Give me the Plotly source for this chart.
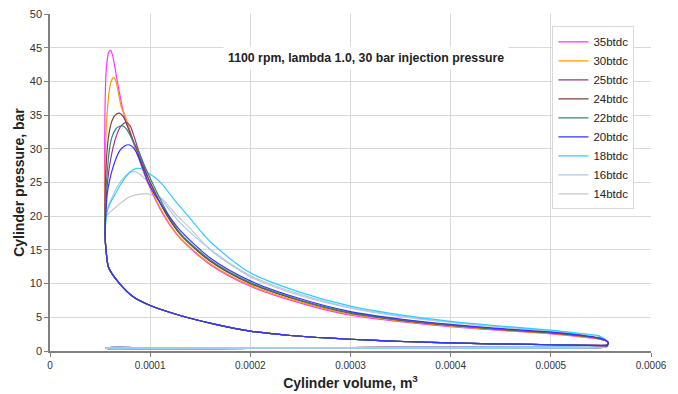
import plotly.graph_objects as go

# ---------------- data (volume in 1e-4 m^3, pressure in bar) ----------------
V_UNIT = 1e-4

SERIES = ["35btdc", "30btdc", "25btdc", "24btdc", "22btdc", "20btdc", "18btdc", "16btdc", "14btdc"]
DRAW_ORDER = ["14btdc", "16btdc", "18btdc", "35btdc", "30btdc", "25btdc", "24btdc", "22btdc", "20btdc"]
GAS_DRAW_ORDER = ["20btdc", "22btdc", "24btdc", "25btdc", "30btdc", "35btdc", "14btdc", "18btdc", "16btdc"]

# compression stroke (BDC -> TDC), shared by all runs
COMP_V = [5.57, 5.20, 4.80, 4.40, 4.00, 3.60, 3.20, 2.80, 2.40, 2.00, 1.63, 1.30, 1.00, 0.835, 0.695, 0.585, 0.560, 0.550]
COMP_P = [0.80, 0.88, 0.97, 1.07, 1.20, 1.37, 1.60, 1.90, 2.30, 2.94, 4.03, 5.27, 6.75, 8.00, 10.0, 12.4, 14.9, 17.0]

# combustion + expansion, per run
HOT_V = {
    "35btdc": [0.546, 0.545, 0.548, 0.556, 0.568, 0.585, 0.604, 0.622, 0.642, 0.670, 0.740, 0.842, 0.967, 1.132, 1.30, 1.60, 2.00, 2.50, 3.00, 3.50, 4.00, 4.50, 5.00, 5.30, 5.48],
    "30btdc": [0.548, 0.550, 0.558, 0.571, 0.590, 0.610, 0.637, 0.658, 0.683, 0.712, 0.748, 0.845, 0.970, 1.135, 1.30, 1.60, 2.00, 2.50, 3.00, 3.50, 4.00, 4.50, 5.00, 5.30, 5.48],
    "25btdc": [0.550, 0.555, 0.565, 0.585, 0.604, 0.630, 0.660, 0.700, 0.740, 0.765, 0.800, 0.840, 0.885, 0.940, 1.000, 1.160, 1.30, 1.60, 2.00, 2.50, 3.00, 3.50, 4.00, 4.50, 5.00, 5.30, 5.48],
    "24btdc": [0.548, 0.550, 0.554, 0.571, 0.595, 0.620, 0.650, 0.693, 0.730, 0.770, 0.810, 0.868, 0.930, 1.000, 1.160, 1.30, 1.60, 2.00, 2.50, 3.00, 3.50, 4.00, 4.50, 5.00, 5.30, 5.48],
    "22btdc": [0.549, 0.552, 0.564, 0.580, 0.594, 0.620, 0.655, 0.690, 0.725, 0.760, 0.800, 0.840, 0.880, 0.950, 1.020, 1.170, 1.30, 1.60, 2.00, 2.50, 3.00, 3.50, 4.00, 4.50, 5.00, 5.30, 5.48],
    "20btdc": [0.550, 0.558, 0.571, 0.595, 0.620, 0.660, 0.700, 0.745, 0.785, 0.830, 0.880, 0.934, 0.980, 1.080, 1.180, 1.30, 1.60, 2.00, 2.50, 3.00, 3.50, 4.00, 4.50, 5.00, 5.30, 5.48],
    "18btdc": [0.550, 0.556, 0.571, 0.610, 0.653, 0.700, 0.760, 0.820, 0.868, 0.920, 0.980, 1.050, 1.116, 1.248, 1.380, 1.60, 2.00, 2.50, 3.00, 3.50, 4.00, 4.50, 5.00, 5.30, 5.48],
    "16btdc": [0.550, 0.556, 0.575, 0.620, 0.680, 0.740, 0.800, 0.840, 0.890, 0.950, 1.000, 1.100, 1.200, 1.300, 1.60, 2.00, 2.50, 3.00, 3.50, 4.00, 4.50, 5.00, 5.30, 5.48],
    "14btdc": [0.550, 0.552, 0.571, 0.600, 0.653, 0.720, 0.785, 0.870, 0.967, 1.040, 1.100, 1.170, 1.248, 1.40, 1.60, 2.00, 2.50, 3.00, 3.50, 4.00, 4.50, 5.00, 5.30, 5.48],
}
HOT_P = {
    "35btdc": [20.0, 28.0, 34.7, 40.1, 42.8, 44.3, 44.6, 44.0, 42.6, 40.2, 35.0, 30.5, 25.3, 20.2, 16.7, 12.8, 9.6, 7.1, 5.3, 4.35, 3.6, 3.05, 2.55, 2.1, 1.75],
    "30btdc": [20.0, 26.0, 32.0, 35.4, 38.5, 40.0, 40.6, 40.0, 38.3, 36.2, 35.0, 30.5, 25.4, 20.3, 16.8, 12.95, 9.75, 7.25, 5.45, 4.45, 3.7, 3.12, 2.6, 2.17, 1.8],
    "25btdc": [18.0, 20.5, 23.5, 26.5, 28.3, 30.2, 31.8, 33.2, 33.8, 33.9, 33.4, 31.8, 29.7, 27.3, 25.0, 20.4, 17.4, 13.4, 10.1, 7.5, 5.65, 4.6, 3.82, 3.22, 2.72, 2.27, 1.88],
    "24btdc": [19.0, 21.8, 25.0, 30.0, 32.8, 34.2, 35.0, 35.3, 34.8, 33.5, 32.0, 29.8, 27.3, 25.0, 20.3, 17.3, 13.3, 10.0, 7.45, 5.6, 4.55, 3.8, 3.2, 2.7, 2.25, 1.85],
    "22btdc": [18.5, 21.0, 25.0, 28.0, 30.0, 31.8, 32.9, 33.3, 33.4, 33.0, 32.0, 30.8, 29.8, 27.3, 25.0, 20.5, 17.5, 13.5, 10.15, 7.55, 5.7, 4.65, 3.85, 3.25, 2.75, 2.3, 1.9],
    "20btdc": [18.0, 20.5, 23.3, 25.3, 26.8, 28.6, 29.8, 30.4, 30.6, 30.2, 28.9, 26.8, 25.0, 22.4, 20.2, 17.9, 13.8, 10.4, 7.75, 5.85, 4.75, 3.95, 3.32, 2.8, 2.35, 1.95],
    "18btdc": [17.5, 19.0, 20.8, 22.2, 23.3, 24.6, 25.9, 26.8, 27.1, 27.0, 26.4, 25.7, 24.8, 22.3, 20.0, 16.2, 11.6, 8.7, 6.65, 5.35, 4.4, 3.7, 3.1, 2.6, 2.25],
    "16btdc": [17.5, 19.2, 21.0, 22.8, 24.6, 25.8, 26.5, 26.6, 26.3, 25.5, 24.7, 22.8, 20.8, 19.0, 15.1, 11.2, 8.4, 6.45, 5.2, 4.3, 3.6, 3.0, 2.55, 2.2],
    "14btdc": [17.5, 19.6, 20.1, 20.6, 21.3, 22.1, 22.8, 23.2, 23.3, 23.1, 22.8, 21.8, 20.4, 18.2, 15.0, 11.0, 8.2, 6.35, 5.1, 4.25, 3.55, 2.95, 2.5, 2.15],
}

# blow-down at BDC, exhaust stroke (leftwards), intake stroke (rightwards)
TURN_V = [5.56, 5.575, 5.55]
TURN_P = [1.45, 1.10, 0.82]
EXH_V = [5.40, 5.00, 4.00, 3.00, 2.00, 1.00, 0.56]
EXH_P = [0.68, 0.60, 0.55, 0.52, 0.50, 0.48, 0.48]
INT_V = [0.56, 1.00, 2.00, 3.00, 4.00, 5.00, 5.55]
INT_P = [0.40, 0.36, 0.38, 0.40, 0.42, 0.45, 0.60]

X_TICKS = [0, 0.0001, 0.0002, 0.0003, 0.0004, 0.0005, 0.0006]
X_TICK_TEXT = ["0", "0.0001", "0.0002", "0.0003", "0.0004", "0.0005", "0.0006"]

TITLE = "1100 rpm, lambda 1.0, 30 bar injection pressure"

# ---------------- styles ----------------
COLORS = {
    "35btdc": "#FF33FF",
    "30btdc": "#FF9900",
    "25btdc": "#993399",
    "24btdc": "#804040",
    "22btdc": "#338877",
    "20btdc": "#3333FF",
    "18btdc": "#33CCFF",
    "16btdc": "#A6CAF0",
    "14btdc": "#C8C8C8",
}
FONT = "Arial, Liberation Sans, sans-serif"
LINE_W = 1.2

fig = go.Figure()

# gas-exchange part of each cycle (exhaust + intake strokes), drawn underneath
for name in GAS_DRAW_ORDER:
    vv = TURN_V[-1:] + EXH_V + INT_V + COMP_V[:1]
    pp = TURN_P[-1:] + EXH_P + INT_P + COMP_P[:1]
    fig.add_trace(go.Scatter(
        x=[v * V_UNIT for v in vv], y=pp, mode="lines", name=name,
        legendgroup=name, showlegend=False, hoverinfo="skip",
        line=dict(color=COLORS[name], width=LINE_W, shape="spline", smoothing=0.8),
    ))

# compression, combustion and expansion of each cycle
for name in DRAW_ORDER:
    vv = COMP_V + HOT_V[name] + TURN_V
    pp = COMP_P + HOT_P[name] + TURN_P
    fig.add_trace(go.Scatter(
        x=[v * V_UNIT for v in vv], y=pp, mode="lines", name=name,
        legendgroup=name,
        line=dict(color=COLORS[name], width=LINE_W, shape="spline", smoothing=0.8),
        legendrank=SERIES.index(name) + 1,
    ))

fig.update_layout(
    width=678, height=394,
    margin=dict(l=50, r=27, t=14, b=43, autoexpand=False),
    paper_bgcolor="white", plot_bgcolor="white",
    font=dict(family=FONT, color="#222222", size=11),
    showlegend=True,
    legend=dict(
        x=0.836, y=0.963, xanchor="left", yanchor="top",
        bgcolor="white", bordercolor="#D9D9D9", borderwidth=1,
        font=dict(size=11.5, family=FONT, color="#222222"),
        tracegroupgap=0,
    ),
    annotations=[dict(
        text="<b>" + TITLE + "</b>", x=0.526, y=0.906, xref="paper", yref="paper",
        showarrow=False, font=dict(size=12.3, family=FONT, color="#222222"),
        bgcolor="white", borderpad=4,
    )],
)
fig.update_xaxes(
    range=[0, 0.0006], tickvals=X_TICKS, ticktext=X_TICK_TEXT,
    showgrid=True, gridcolor="#D9D9D9", gridwidth=1,
    showline=True, linecolor="#808080", linewidth=1.5,
    ticks="outside", ticklen=4, tickcolor="#808080",
    tickfont=dict(size=10, color="#333333"),
    zeroline=False, automargin=False,
    title=dict(text="<b>Cylinder volume, m<sup>3</sup></b>", font=dict(size=14, color="#222222"), standoff=8),
)
fig.update_yaxes(
    range=[0, 50], dtick=5,
    showgrid=True, gridcolor="#D9D9D9", gridwidth=1,
    showline=True, linecolor="#808080", linewidth=1.5,
    ticks="outside", ticklen=4, tickcolor="#808080",
    tickfont=dict(size=11, color="#333333"),
    zeroline=False, automargin=False,
    title=dict(text="<b>Cylinder pressure, bar</b>", font=dict(size=14, color="#222222"), standoff=2),
)

fig.write_html("out.html")
